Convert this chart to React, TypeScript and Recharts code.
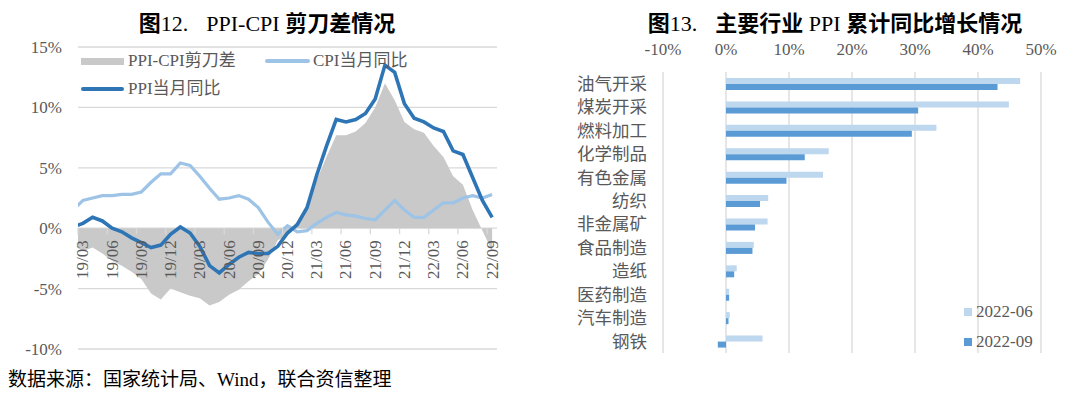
import React from 'react';
import {
  ComposedChart,
  Area,
  Line,
  XAxis,
  YAxis,
  CartesianGrid,
  Legend,
  BarChart,
  Bar,
} from 'recharts';

const SERIF = "'Liberation Serif','Times New Roman','Noto Sans CJK SC',serif";
const AXIS_COLOR = '#595959';
const GRID_COLOR = '#d9d9d9';

// ---------- Left chart data (monthly, 19/02 .. 22/09) ----------
const months = [
  '19/02', '19/03', '19/04', '19/05', '19/06', '19/07', '19/08', '19/09', '19/10', '19/11', '19/12',
  '20/01', '20/02', '20/03', '20/04', '20/05', '20/06', '20/07', '20/08', '20/09', '20/10', '20/11', '20/12',
  '21/01', '21/02', '21/03', '21/04', '21/05', '21/06', '21/07', '21/08', '21/09', '21/10', '21/11', '21/12',
  '22/01', '22/02', '22/03', '22/04', '22/05', '22/06', '22/07', '22/08', '22/09',
];
const ppiYoY = [
  0.1, 0.4, 0.9, 0.6, 0.0, -0.3, -0.8, -1.2, -1.6, -1.4, -0.5,
  0.1, -0.4, -1.5, -3.1, -3.7, -3.0, -2.4, -2.0, -2.1, -2.1, -1.5, -0.4,
  0.3, 1.7, 4.4, 6.8, 9.0, 8.8, 9.0, 9.5, 10.7, 13.5, 12.9, 10.3,
  9.1, 8.8, 8.3, 8.0, 6.4, 6.1, 4.2, 2.3, 0.9,
];
const cpiYoY = [
  1.5, 2.3, 2.5, 2.7, 2.7, 2.8, 2.8, 3.0, 3.8, 4.5, 4.5,
  5.4, 5.2, 4.3, 3.3, 2.4, 2.5, 2.7, 2.4, 1.7, 0.5, -0.5, 0.2,
  -0.3, -0.2, 0.4, 0.9, 1.3, 1.1, 1.0, 0.8, 0.7, 1.5, 2.3, 1.5,
  0.9, 0.9, 1.5, 2.1, 2.1, 2.5, 2.7, 2.5, 2.8,
];
const scissorsGap = [
  -1.4, -1.9, -1.6, -2.1, -2.7, -3.1, -3.6, -4.2, -5.4, -5.9, -5.0,
  -5.3, -5.6, -5.8, -6.4, -6.1, -5.5, -5.1, -4.4, -3.8, -2.6, -1.0, -0.6,
  0.6, 1.9, 4.0, 5.9, 7.7, 7.7, 8.0, 8.7, 10.0, 12.0, 10.6, 8.8,
  8.2, 7.9, 6.8, 5.9, 4.3, 3.6, 1.5, -0.2, -1.9,
];
const leftYTicks = [-10, -5, 0, 5, 10, 15];
const leftXTickIdx = [1, 4, 7, 10, 13, 16, 19, 22, 25, 28, 31, 34, 37, 40, 43];
const leftSeriesNames = ['PPI-CPI剪刀差', 'CPI当月同比', 'PPI当月同比'];

// ---------- Right chart data ----------
const industries = [
  '油气开采', '煤炭开采', '燃料加工', '化学制品', '有色金属', '纺织',
  '非金属矿', '食品制造', '造纸', '医药制造', '汽车制造', '钢铁',
];
const ppi2206 = [46.7, 44.9, 33.4, 16.3, 15.4, 6.7, 6.6, 4.4, 1.7, 0.5, 0.6, 5.8];
const ppi2209 = [43.1, 30.5, 29.5, 12.5, 9.6, 5.4, 4.6, 4.2, 1.3, 0.5, 0.4, -1.3];
const rightXTicks = [-10, 0, 10, 20, 30, 40, 50];
const rightSeriesNames = ['2022-06', '2022-09'];

// ---------- Colors ----------
const GAP_COLOR = '#c9c9c9';
const CPI_COLOR = '#9dc3e6';
const PPI_COLOR = '#2e75b6';
const JUN_COLOR = '#bdd7ee';
const SEP_COLOR = '#5b9bd5';

// ---------- Left chart geometry ----------
const L_W = 540;
const L_H = 397;
const L_XAXIS_H = 30;
const L_MARGIN = { top: 47, right: 43, bottom: 48 - L_XAXIS_H, left: 8 };
const L_YAXIS_W = 70;
const L_PLOT_W = L_W - L_MARGIN.left - L_MARGIN.right - L_YAXIS_W;
const L_PLOT_H = L_H - L_MARGIN.top - L_MARGIN.bottom - L_XAXIS_H;
const X_DOMAIN: [number, number] = [0.5, months.length - 0.5];
const X_UNIT = L_PLOT_W / (X_DOMAIN[1] - X_DOMAIN[0]);
const Y_DOMAIN: [number, number] = [-10, 15];
const ZERO_OFFSET = (L_PLOT_H * (0 - Y_DOMAIN[0])) / (Y_DOMAIN[1] - Y_DOMAIN[0]);

const leftData = months.map((m, i) => ({
  i,
  m,
  gap: scissorsGap[i],
  cpi: cpiYoY[i],
  ppi: ppiYoY[i],
}));

const rightData = industries.map((name, i) => ({
  name,
  jun: ppi2206[i],
  sep: ppi2209[i],
}));

const renderLeftXTick = (props: any) => {
  const { x, y, payload } = props;
  const y0 = y - ZERO_OFFSET;
  const half = X_UNIT / 2;
  return (
    <g key={`t-${payload.value}`}>
      <line x1={x - half} x2={x - half} y1={y0} y2={y0 + 6} stroke={GRID_COLOR} strokeWidth={1.3} />
      <text
        transform={`translate(${x},${y0 + 12}) rotate(-90)`}
        textAnchor="end"
        dominantBaseline="central"
        fontSize={17}
        fontFamily={SERIF}
        fill={AXIS_COLOR}
      >
        {months[payload.value]}
      </text>
    </g>
  );
};

const legendText: React.CSSProperties = {
  fontFamily: SERIF,
  fontSize: 17,
  color: AXIS_COLOR,
  whiteSpace: 'nowrap',
  lineHeight: '24px',
};

const LeftLegend = () => (
  <div style={{ position: 'relative', width: 420, height: 56 }}>
    <div style={{ position: 'absolute', left: 0, top: 0, height: 24, display: 'flex', alignItems: 'center' }}>
      <span style={{ display: 'inline-block', width: 43, height: 7, background: GAP_COLOR, marginRight: 4 }} />
      <span style={legendText}>{leftSeriesNames[0]}</span>
    </div>
    <div style={{ position: 'absolute', left: 184, top: 0, height: 24, display: 'flex', alignItems: 'center' }}>
      <span style={{ display: 'inline-block', width: 45, height: 4, borderRadius: 2, background: CPI_COLOR, marginRight: 3 }} />
      <span style={legendText}>{leftSeriesNames[1]}</span>
    </div>
    <div style={{ position: 'absolute', left: 0, top: 28, height: 24, display: 'flex', alignItems: 'center' }}>
      <span style={{ display: 'inline-block', width: 43, height: 4, borderRadius: 2, background: PPI_COLOR, marginRight: 4 }} />
      <span style={legendText}>{leftSeriesNames[2]}</span>
    </div>
  </div>
);

const RightLegend = () => (
  <div style={{ position: 'relative', width: 110, height: 56 }}>
    {rightSeriesNames.map((n, k) => (
      <div key={n} style={{ position: 'absolute', left: 0, top: k * 30, height: 24, display: 'flex', alignItems: 'center' }}>
        <span style={{ display: 'inline-block', width: 8, height: 8, background: k === 0 ? JUN_COLOR : SEP_COLOR, marginRight: 4 }} />
        <span style={legendText}>{n}</span>
      </div>
    ))}
  </div>
);

const titleStyle: React.CSSProperties = {
  position: 'absolute',
  top: 6,
  width: 520,
  textAlign: 'center',
  fontFamily: SERIF,
  fontSize: 22,
  lineHeight: '30px',
  color: '#000',
  whiteSpace: 'nowrap',
};
const cjkBold: React.CSSProperties = { fontFamily: "'Noto Sans CJK SC',sans-serif", fontWeight: 700 };

export default function App() {
  return (
    <div style={{ position: 'absolute', left: 0, top: 0, width: 1080, height: 397, background: '#fff', overflow: 'hidden' }}>
      <div style={{ ...titleStyle, left: 267 - 260 }}>
        <span style={cjkBold}>图</span>
        <span>12.</span>
        <span style={{ marginLeft: 18 }}>PPI-CPI </span>
        <span style={cjkBold}>剪刀差情况</span>
      </div>
      <div style={{ ...titleStyle, left: 835 - 260 }}>
        <span style={cjkBold}>图</span>
        <span>13.</span>
        <span style={{ marginLeft: 18, ...cjkBold }}>主要行业</span>
        <span> PPI </span>
        <span style={cjkBold}>累计同比增长情况</span>
      </div>

      <div style={{ position: 'absolute', left: 0, top: 0 }}>
        <ComposedChart width={L_W} height={L_H} data={leftData} margin={L_MARGIN}>
          <CartesianGrid horizontal vertical={false} stroke={GRID_COLOR} strokeWidth={1.3} />
          <YAxis
            type="number"
            domain={Y_DOMAIN}
            ticks={leftYTicks}
            width={L_YAXIS_W}
            axisLine={false}
            tickLine={false}
            tickMargin={10}
            tickFormatter={(v: number) => `${v}%`}
            tick={{ fontSize: 17, fontFamily: SERIF, fill: AXIS_COLOR }}
            interval={0}
          />
          <Area
            type="linear"
            dataKey="gap"
            baseValue={0}
            stroke="none"
            fill={GAP_COLOR}
            fillOpacity={1}
            isAnimationActive={false}
            dot={false}
            activeDot={false}
          />
          <XAxis
            type="number"
            dataKey="i"
            domain={X_DOMAIN}
            allowDataOverflow
            ticks={leftXTickIdx}
            interval={0}
            height={L_XAXIS_H}
            axisLine={false}
            tickLine={false}
            tickSize={0}
            tickMargin={0}
            tick={renderLeftXTick}
            zIndex={250}
          />
          <Line
            type="linear"
            dataKey="cpi"
            stroke={CPI_COLOR}
            strokeWidth={3.2}
            dot={false}
            activeDot={false}
            isAnimationActive={false}
          />
          <Line
            type="linear"
            dataKey="ppi"
            stroke={PPI_COLOR}
            strokeWidth={3.6}
            dot={false}
            activeDot={false}
            isAnimationActive={false}
          />
          <Legend
            layout="vertical"
            align="center"
            verticalAlign="middle"
            wrapperStyle={{ left: 81, top: 49, width: 420, height: 56 }}
            content={() => <LeftLegend />}
          />
        </ComposedChart>
      </div>

      <div style={{ position: 'absolute', left: 540, top: 0 }}>
        <BarChart
          width={540}
          height={397}
          data={rightData}
          layout="vertical"
          margin={{ top: 42, right: 39, bottom: 44, left: 13 }}
          barGap={0}
        >
          <CartesianGrid horizontal={false} vertical stroke={GRID_COLOR} strokeWidth={1.3} />
          <XAxis
            type="number"
            orientation="top"
            domain={[-10, 50]}
            ticks={rightXTicks}
            interval={0}
            height={30}
            axisLine={false}
            tickLine={false}
            tickMargin={11}
            tickFormatter={(v: number) => `${v}%`}
            tick={{ fontSize: 17, fontFamily: SERIF, fill: AXIS_COLOR }}
          />
          <YAxis
            type="category"
            dataKey="name"
            width={110}
            axisLine={false}
            tickLine={false}
            tickMargin={10}
            interval={0}
            tick={{ fontSize: 17.5, fontFamily: "'Noto Sans CJK SC',sans-serif", fill: AXIS_COLOR }}
          />
          <Bar dataKey="jun" fill={JUN_COLOR} barSize={6} isAnimationActive={false} />
          <Bar dataKey="sep" fill={SEP_COLOR} barSize={6} isAnimationActive={false} />
          <Legend
            layout="vertical"
            align="center"
            verticalAlign="middle"
            wrapperStyle={{ left: 424, top: 300, width: 110, height: 56 }}
            content={() => <RightLegend />}
          />
        </BarChart>
      </div>

      <div
        style={{
          position: 'absolute',
          left: 8,
          top: 368,
          fontFamily: SERIF,
          fontSize: 19,
          lineHeight: '24px',
          color: '#000',
          whiteSpace: 'nowrap',
        }}
      >
        数据来源：国家统计局、Wind，联合资信整理
      </div>
    </div>
  );
}
